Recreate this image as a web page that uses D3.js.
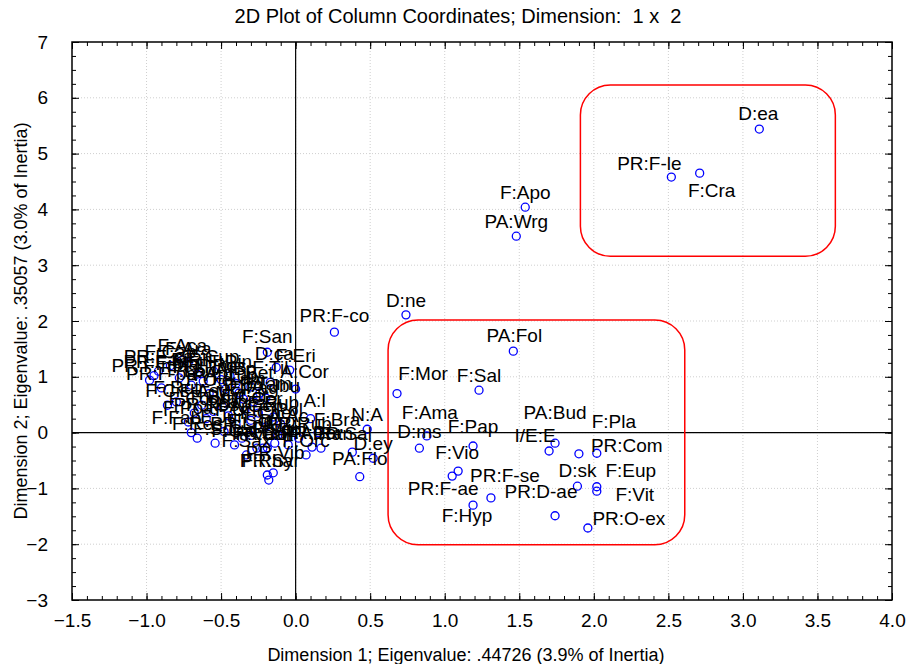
<!DOCTYPE html>
<html>
<head>
	<meta charset="utf-8">
	<script type="text/javascript" src="https://cdn.jsdelivr.net/npm/d3@7"></script>
	<style>
		body { margin: 0; background: #fff; }
		text { font-family: "Liberation Sans", Arial, sans-serif; }
	</style>
</head>
<body>
	<script type="text/javascript">

		// column labels and their coordinates on dimension 1 and 2
		var colLabels = [
			'D:ea', 'PR:F-le', 'F:Cra', 'F:Apo', 'PA:Wrg', 'D:ne', 'PR:F-co', 'PA:Fol',
			'F:Sal', 'F:Mor', 'F:Ama', 'D:ms', 'F:Pap', 'F:Vio', 'PR:F-ae', 'F:Hyp',
			'PR:F-se', 'PR:D-ae', 'PA:Bud', 'I/E:E', 'F:Pla', 'PR:Com', 'D:sk', 'F:Eup',
			'F:Vit', 'PR:O-ex', 'N:A', 'PR:Sal', 'D:ey', 'PA:Flo', 'F:Bra', 'A:l',
			'F:San', 'D:ca', 'F:Eri', 'A:Cor', 'A:Jbu',
			'PR:F-ma', 'PR:F-fr', 'PR:F-pa', 'F:Aca', 'F:Ara', 'PR:F-ca', 'F:Cap', 'F:Mal',
			'F:Lau', 'F:Rhu', 'PR:Pru', 'F:Ole', 'F:Cup', 'F:Ros', 'PA:Cup', 'F:Pin',
			'A:Bp', 'F:Lam', 'D:po', 'F:Bet', 'F:Fag', 'F:Tam', 'F:Til', 'F:Cis',
			'F:Rut', 'F:Ast', 'F:Myr', 'F:Poa', 'F:Con', 'PR:Ros', 'F:Bor', 'D:ag',
			'F:Urt', 'F:Car', 'PA:Gen', 'F:Ger', 'F:Che', 'F:Rub', 'F:Pol', 'A:Ac',
			'F:Fab', 'F:Res', 'F:Sol', 'F:Jun', 'F:Gal', 'PR:Lon', 'F:Sax', 'F:Scr',
			'F:Val', 'PR:Cor', 'F:Cal', 'F:Ver', 'D:ro', 'F:Lil', 'PR:Rub', 'F:Orc',
			'PR:Ber', 'PA:Ran', 'PR:Vib', 'PR:Syr', 'F:Rha'
		];

		var dim1 = [
			3.11, 2.52, 2.71, 1.54, 1.48, 0.74, 0.26, 1.46,
			1.23, 0.68, 0.88, 0.83, 1.19, 1.09, 1.05, 1.19,
			1.31, 1.74, 1.74, 1.70, 1.90, 2.02, 1.89, 2.02,
			2.02, 1.96, 0.48, 0.38, 0.52, 0.43, 0.15, 0.10,
			-0.19, -0.13, -0.04, 0.00, -0.24,
			-0.98, -0.95, -0.90, -0.76, -0.72, -0.92, -0.84, -0.78,
			-0.70, -0.66, -0.62, -0.58, -0.55, -0.50, -0.47, -0.44,
			-0.40, -0.38, -0.35, -0.30, -0.28, -0.20, -0.17, -0.86,
			-0.80, -0.63, -0.49, -0.72, -0.68, -0.60, -0.55, -0.45,
			-0.40, -0.34, -0.30, -0.25, -0.20, -0.15, -0.10, -0.05,
			-0.70, -0.66, -0.54, -0.48, -0.41, -0.36, -0.33, -0.30,
			-0.26, -0.22, -0.19, -0.14, -0.12, -0.05, 0.02, 0.07,
			0.11, 0.17, -0.15, -0.18, -0.19
		];

		var dim2 = [
			5.44, 4.58, 4.65, 4.04, 3.52, 2.11, 1.80, 1.46,
			0.76, 0.70, -0.06, -0.28, -0.24, -0.69, -0.78, -1.30,
			-1.17, -1.49, -0.19, -0.33, -0.38, -0.37, -0.96, -0.97,
			-1.05, -1.71, 0.06, -0.35, -0.46, -0.79, 0.00, 0.25,
			1.44, 1.17, 1.12, 0.78, 0.71,
			0.94, 1.02, 0.80, 1.30, 1.25, 1.10, 1.20, 0.98,
			0.85, 1.05, 0.92, 0.70, 1.10, 0.95, 0.78, 1.02,
			0.88, 0.71, 0.60, 0.82, 0.55, 0.62, 0.90, 0.49,
			0.55, 0.49, 0.46, 0.19, 0.35, 0.25, 0.38, 0.30,
			0.15, 0.40, 0.22, 0.35, 0.10, 0.28, 0.15, 0.05,
			0.00, -0.10, -0.19, 0.02, -0.22, -0.10, -0.40, -0.05,
			-0.28, -0.28, -0.27, -0.19, -0.05, -0.22, -0.10, -0.40,
			-0.26, -0.28, -0.72, -0.85, -0.76
		];

		// highlighted groups: [x0, x1, y0, y1] in plot units
		var groupUpper = [1.91, 3.62, 3.16, 6.23];
		var groupLower = [0.62, 2.61, -2.01, 2.02];

		var xTicks = [-1.5, -1.0, -0.5, 0.0, 0.5, 1.0, 1.5, 2.0, 2.5, 3.0, 3.5, 4.0];
		var yTicks = [-3, -2, -1, 0, 1, 2, 3, 4, 5, 6, 7];

		// label placement (pixels from the point), default is just above
		var labelShift = {
			'D:ea': [-1, -9], 'PR:F-le': [-22, -7], 'F:Cra': [12, 24], 'PR:F-co': [0, -10],
			'PA:Fol': [1, -9], 'F:Mor': [26, -14], 'F:Ama': [3, -17], 'D:ms': [0, -10],
			'F:Pap': [0, -13], 'F:Vio': [-1, -12], 'PR:F-ae': [-9, 19], 'F:Hyp': [-6, 17],
			'PR:F-se': [14, -16], 'PR:D-ae': [-14, -18], 'PA:Bud': [0, -24], 'I/E:E': [-14, -9],
			'F:Pla': [35, -26], 'PR:Com': [30, -1], 'D:sk': [0, -9], 'F:Eup': [34, -10],
			'F:Vit': [38, 10], 'PR:O-ex': [41, -3], 'PR:Sal': [-10, -12], 'PA:Flo': [0, -12],
			'F:Bra': [19, -7], 'A:l': [4, -12], 'PR:Syr': [1, -13], 'PR:Vib': [2, -14],
			'F:San': [0, -9], 'D:ca': [-2, -7], 'F:Eri': [6, -8], 'A:Cor': [9, -11],
			'A:Jbu': [16, -1], 'F:Fab': [-15, -9]
		};

		var data = colLabels.map(function(d, i) {
			return {label: d, x: dim1[i], y: dim2[i]};
		});

		// canvas params
		var margin = {top: 42, left: 72, right: 24, bottom: 64};
		var width = 916 - margin.left - margin.right;
		var height = 664 - margin.top - margin.bottom;

		var xScale = d3.scaleLinear().domain([-1.5, 4.0]).range([0, width]);
		var yScale = d3.scaleLinear().domain([-3, 7]).range([height, 0]);

		var svg = d3.select('body')
			.append('svg')
			.attr('width', 916)
			.attr('height', 664);

		var g = svg.append('g')
			.attr('transform', 'translate(' + margin.left + ',' + margin.top + ')');

		// grid
		g.selectAll('.gx')
			.data(xTicks.slice(1, -1))
			.enter()
			.append('line')
			.attr('x1', function(d) { return xScale(d); })
			.attr('x2', function(d) { return xScale(d); })
			.attr('y1', 0)
			.attr('y2', height)
			.attr('stroke', '#cfcfcf')
			.attr('stroke-dasharray', '1,2');

		g.selectAll('.gy')
			.data(yTicks.slice(1, -1))
			.enter()
			.append('line')
			.attr('y1', function(d) { return yScale(d); })
			.attr('y2', function(d) { return yScale(d); })
			.attr('x1', 0)
			.attr('x2', width)
			.attr('stroke', '#cfcfcf')
			.attr('stroke-dasharray', '1,2');

		// zero lines
		g.append('line')
			.attr('x1', xScale(0)).attr('x2', xScale(0))
			.attr('y1', 0).attr('y2', height)
			.attr('stroke', '#000').attr('stroke-width', 1.2);
		g.append('line')
			.attr('y1', yScale(0)).attr('y2', yScale(0))
			.attr('x1', 0).attr('x2', width)
			.attr('stroke', '#000').attr('stroke-width', 1.2);

		// red group boxes
		[groupUpper, groupLower].forEach(function(b) {
			g.append('rect')
				.attr('x', xScale(b[0]))
				.attr('y', yScale(b[3]))
				.attr('width', xScale(b[1]) - xScale(b[0]))
				.attr('height', yScale(b[2]) - yScale(b[3]))
				.attr('rx', 30)
				.attr('ry', 30)
				.attr('fill', 'none')
				.attr('stroke', '#ff0000')
				.attr('stroke-width', 1.5);
		});

		// points
		g.selectAll('circle')
			.data(data)
			.enter()
			.append('circle')
			.attr('cx', function(d) { return xScale(d.x); })
			.attr('cy', function(d) { return yScale(d.y); })
			.attr('r', 4)
			.attr('fill', 'none')
			.attr('stroke', '#0000ff')
			.attr('stroke-width', 1.3);

		// labels
		g.selectAll('.lbl')
			.data(data)
			.enter()
			.append('text')
			.attr('class', 'lbl')
			.attr('x', function(d) {
				var s = labelShift[d.label] || [0, -8];
				return xScale(d.x) + s[0];
			})
			.attr('y', function(d) {
				var s = labelShift[d.label] || [0, -8];
				return yScale(d.y) + s[1];
			})
			.attr('text-anchor', 'middle')
			.attr('font-size', '19px')
			.attr('fill', '#000')
			.text(function(d) { return d.label; });

		// axes, ticks pointing inward on all sides
		var xMinor = d3.range(-15, 41).map(function(d) { return d / 10; });
		var yMinor = d3.range(-12, 29).map(function(d) { return d / 4; });

		function addAxis(axis, tr) {
			var a = g.append('g').attr('transform', tr).call(axis);
			a.select('.domain').remove();
			a.selectAll('text').attr('font-size', '19px').attr('fill', '#000');
			return a;
		}

		addAxis(d3.axisBottom(xScale).tickValues(xMinor).tickSize(-4).tickFormat(''), 'translate(0,' + height + ')');
		addAxis(d3.axisTop(xScale).tickValues(xMinor).tickSize(-4).tickFormat(''), 'translate(0,0)');
		addAxis(d3.axisLeft(yScale).tickValues(yMinor).tickSize(-4).tickFormat(''), 'translate(0,0)');
		addAxis(d3.axisRight(yScale).tickValues(yMinor).tickSize(-4).tickFormat(''), 'translate(' + width + ',0)');

		addAxis(d3.axisBottom(xScale).tickValues(xTicks).tickSize(-7).tickPadding(14).tickFormat(d3.format('.1f')), 'translate(0,' + height + ')');
		addAxis(d3.axisTop(xScale).tickValues(xTicks).tickSize(-7).tickFormat(''), 'translate(0,0)');
		addAxis(d3.axisLeft(yScale).tickValues(yTicks).tickSize(-7).tickPadding(24).tickFormat(d3.format('d')), 'translate(0,0)');
		addAxis(d3.axisRight(yScale).tickValues(yTicks).tickSize(-7).tickFormat(''), 'translate(' + width + ',0)');

		g.selectAll('.tick line').attr('stroke', '#000');

		// frame
		g.append('rect')
			.attr('width', width)
			.attr('height', height)
			.attr('fill', 'none')
			.attr('stroke', '#000')
			.attr('stroke-width', 1.5);

		// titles
		svg.append('text')
			.attr('x', 458)
			.attr('y', 23)
			.attr('text-anchor', 'middle')
			.attr('font-size', '20px')
			.attr('xml:space', 'preserve')
			.text('2D Plot of Column Coordinates; Dimension:  1 x  2');

		svg.append('text')
			.attr('x', 466)
			.attr('y', 661)
			.attr('text-anchor', 'middle')
			.attr('font-size', '18px')
			.text('Dimension 1; Eigenvalue: .44726 (3.9% of Inertia)');

		svg.append('text')
			.attr('transform', 'translate(27,' + (margin.top + height / 2) + ') rotate(-90)')
			.attr('text-anchor', 'middle')
			.attr('font-size', '18px')
			.text('Dimension 2; Eigenvalue: .35057 (3.0% of Inertia)');

	</script>
</body>
</html>
